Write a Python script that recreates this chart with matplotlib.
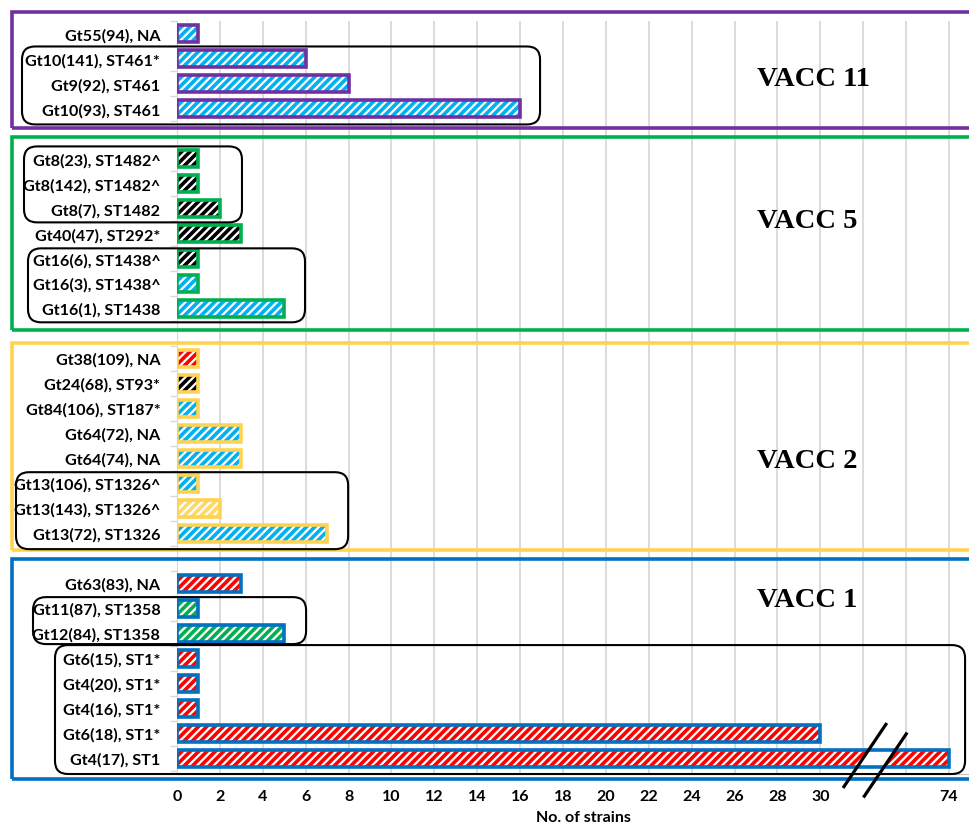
import matplotlib
matplotlib.use('Agg')
import matplotlib.pyplot as plt
from matplotlib.patches import Rectangle, FancyBboxPatch, Polygon
from matplotlib.transforms import IdentityTransform

# dados (de cima para baixo)
vacc11_labels = ['Gt55(94), NA', 'Gt10(141), ST461*', 'Gt9(92), ST461', 'Gt10(93), ST461']
vacc11_counts = [1, 6, 8, 16]
vacc11_stripes = ['cyan', 'cyan', 'cyan', 'cyan']

vacc5_labels = ['Gt8(23), ST1482^', 'Gt8(142), ST1482^', 'Gt8(7), ST1482', 'Gt40(47), ST292*',
                'Gt16(6), ST1438^', 'Gt16(3), ST1438^', 'Gt16(1), ST1438']
vacc5_counts = [1, 1, 2, 3, 1, 1, 5]
vacc5_stripes = ['black', 'black', 'black', 'black', 'black', 'cyan', 'cyan']

vacc2_labels = ['Gt38(109), NA', 'Gt24(68), ST93*', 'Gt84(106), ST187*', 'Gt64(72), NA',
                'Gt64(74), NA', 'Gt13(106), ST1326^', 'Gt13(143), ST1326^', 'Gt13(72), ST1326']
vacc2_counts = [1, 1, 1, 3, 3, 1, 2, 7]
vacc2_stripes = ['red', 'black', 'cyan', 'cyan', 'cyan', 'cyan', 'yellow', 'cyan']

vacc1_labels = ['Gt63(83), NA', 'Gt11(87), ST1358', 'Gt12(84), ST1358', 'Gt6(15), ST1*',
                'Gt4(20), ST1*', 'Gt4(16), ST1*', 'Gt6(18), ST1*', 'Gt4(17), ST1']
vacc1_counts = [3, 1, 5, 1, 1, 1, 30, 74]
vacc1_stripes = ['red', 'green', 'green', 'red', 'red', 'red', 'red', 'red']

group_names = ['VACC 11', 'VACC 5', 'VACC 2', 'VACC 1']
x_ticks = [0, 2, 4, 6, 8, 10, 12, 14, 16, 18, 20, 22, 24, 26, 28, 30, 74]

stripe_colors = {'cyan': '#00B0F0', 'red': '#FF0000', 'green': '#00B050',
                 'black': '#000000', 'yellow': '#FFD966'}
group_colors = ['#7030A0', '#00B050', '#FFD34F', '#0070C0']

# eixo quebrado: valores acima de 30 vao para a posicao do rotulo 74
BREAK_AT = 30
BREAK_POS = 36


def pos(v):
    return v if v <= BREAK_AT else BREAK_POS


plt.rcParams['font.family'] = 'Lato'
plt.rcParams['hatch.linewidth'] = 2.6

W, H = 970, 828
fig = plt.figure(figsize=(9.7, 8.28), dpi=100)
ax = fig.add_axes([177 / W, 1 - 775 / H, 793 / W, 753 / H])
ax.set_xlim(0, 36.98)
ax.set_ylim(29.64, -0.48)

grupos = [
    (vacc11_labels, vacc11_counts, vacc11_stripes),
    (vacc5_labels, vacc5_counts, vacc5_stripes),
    (vacc2_labels, vacc2_counts, vacc2_stripes),
    (vacc1_labels, vacc1_counts, vacc1_stripes),
]

# posicoes das linhas, com uma linha vazia entre grupos
linhas_grupo = []
todas_linhas, todos_rotulos = [], []
r = 0
for labels, counts, stripes in grupos:
    rows = list(range(r, r + len(labels)))
    linhas_grupo.append(rows)
    todas_linhas += rows
    todos_rotulos += labels
    r += len(labels) + 1

# grade vertical
ax.vlines(range(0, 37, 2), -0.48, 29.64, color='#D9D9D9', lw=1.3, zorder=0)

for gi, (labels, counts, stripes) in enumerate(grupos):
    rows = linhas_grupo[gi]
    larg = [pos(c) for c in counts]
    ax.barh(rows, larg, height=0.68, color='white',
            edgecolor=[stripe_colors[s] for s in stripes], hatch='////', linewidth=0, zorder=2)
    ax.barh(rows, larg, height=0.68, color='none',
            edgecolor=group_colors[gi], linewidth=2.6, zorder=3)

ax.set_yticks(todas_linhas)
ax.set_yticklabels(todos_rotulos, fontsize=11.6, fontweight='bold')
ax.set_yticks([x + 0.5 for x in range(-1, 30)], minor=True)
ax.tick_params(axis='y', which='major', length=0, pad=12)
ax.tick_params(axis='y', which='minor', length=5, color='#D9D9D9', width=1)

ax.set_xticks([pos(v) for v in x_ticks])
ax.set_xticklabels([str(v) for v in x_ticks], fontsize=11.5, fontweight='bold')
ax.tick_params(axis='x', length=0, pad=11)

ax.set_xlabel('No. of strains', fontsize=11.5, fontweight='bold')
ax.xaxis.set_label_coords((583 - 177) / 793, -(811 - 775) / 753)

for s in ['top', 'right']:
    ax.spines[s].set_visible(False)
ax.spines['left'].set_color('#D9D9D9')
ax.spines['bottom'].set_color('#BFBFBF')

# marca de quebra do eixo
half = (1.02, -1.3)
c1 = (32.08, 28.9)
c2 = (33.03, 29.28)
l1 = [(c1[0] - half[0], c1[1] - half[1]), (c1[0] + half[0], c1[1] + half[1])]
l2 = [(c2[0] - half[0], c2[1] - half[1]), (c2[0] + half[0], c2[1] + half[1])]
ax.add_patch(Polygon([l1[0], l1[1], l2[1], l2[0]], closed=True, facecolor='white',
                     edgecolor='none', zorder=2.5, clip_on=False))
for l in (l1, l2):
    ax.plot([l[0][0], l[1][0]], [l[0][1], l[1][1]], color='black', lw=2.3,
            zorder=6, clip_on=False, solid_capstyle='butt')


# caixas em coordenadas de pixel (origem no topo)
def row_px(row):
    return H - ax.transData.transform((0, row))[1]


def x_px(x):
    return ax.transData.transform((x, 0))[0]


def caixa(x0, y0, x1, y1, cor, lw, raio=0.0, z=5):
    if raio > 0:
        p = FancyBboxPatch((x0, H - y1), x1 - x0, y1 - y0,
                           boxstyle='round,pad=0,rounding_size=%g' % raio,
                           facecolor='none', edgecolor=cor, linewidth=lw,
                           transform=IdentityTransform(), zorder=z, clip_on=False)
    else:
        p = Rectangle((x0, H - y1), x1 - x0, y1 - y0, facecolor='none', edgecolor=cor,
                      linewidth=lw, transform=IdentityTransform(), zorder=z, clip_on=False)
    ax.add_artist(p)


# caixas coloridas de cada grupo (margem acima, abaixo em pixels) e rotulos VACC
margens = [(21, 20), (21, 22), (15, 17), (24, 21)]
nome_y = [80, 222, 462, 601]
for gi, rows in enumerate(linhas_grupo):
    y0 = row_px(rows[0]) - margens[gi][0]
    y1 = row_px(rows[-1]) + margens[gi][1]
    caixa(12, y0, 990, y1, group_colors[gi], 2.6)
    ax.text(757, H - nome_y[gi], group_names[gi],
            transform=IdentityTransform(), fontsize=20.5, fontweight='bold',
            family='Liberation Serif', va='center', ha='left')

# caixas arredondadas pretas: (grupo, primeira, ultima, esquerda px, direita em dados, margens)
sub_caixas = [
    (0, 1, 3, 22, 16.93, 12, 16),
    (1, 0, 2, 24, 3.03, 12, 14),
    (1, 4, 6, 28, 5.97, 10, 14),
    (2, 5, 7, 16, 7.98, 11, 16),
    (3, 1, 2, 33, 6.02, 11, 11),
    (3, 3, 7, 55, 36.75, 13, 16),
]
for gi, a, b, xl, xr, mt, mb in sub_caixas:
    rows = linhas_grupo[gi]
    caixa(xl, row_px(rows[a]) - mt, x_px(xr), row_px(rows[b]) + mb, 'black', 1.5, raio=13)

fig.savefig('out.png', dpi=100)
